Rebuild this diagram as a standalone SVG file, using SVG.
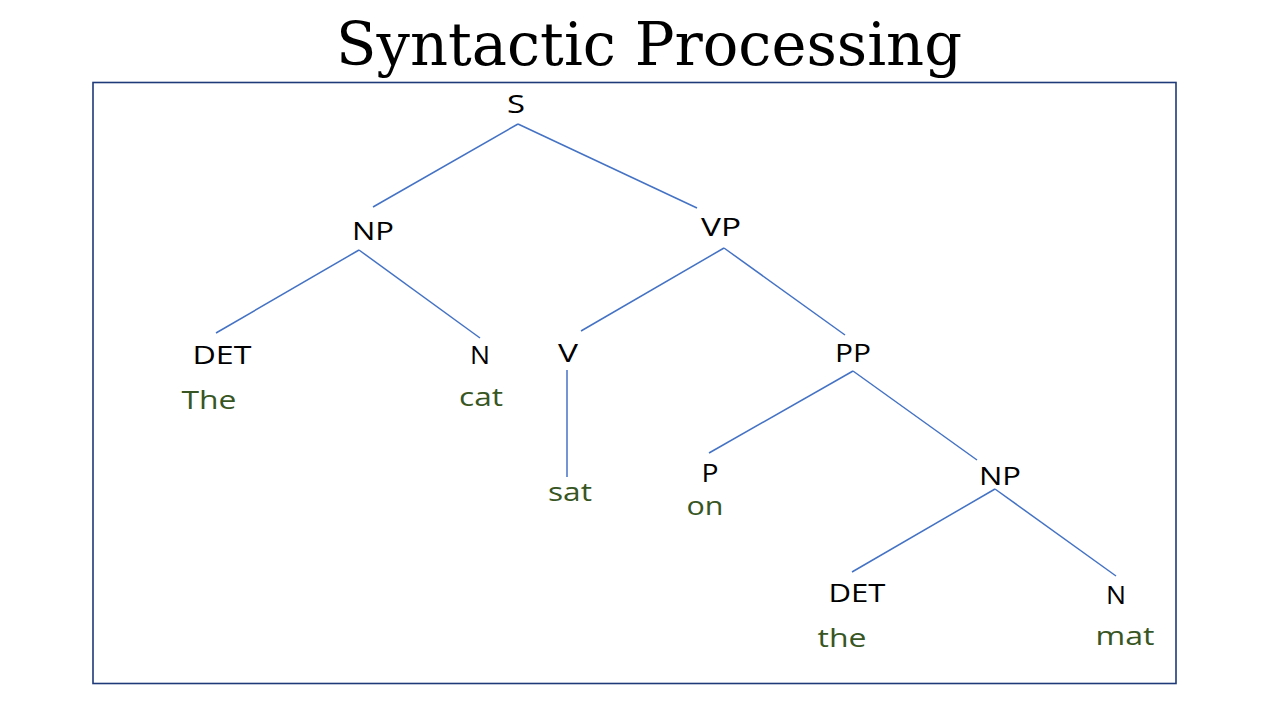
<svg xmlns="http://www.w3.org/2000/svg" width="1280" height="720" viewBox="0 0 1280 720">
<style>
.title{font-family:"DejaVu Serif","Liberation Serif",serif;font-size:60px;fill:#000}
.lbl{font-family:"Open Sans","Noto Sans",sans-serif;font-size:26px;fill:#000;text-anchor:middle}
.word{font-family:"Open Sans","Noto Sans",sans-serif;font-size:26px;fill:#375623;text-anchor:middle}
.edge{stroke:#4472C4;stroke-width:1.5;fill:none}
</style>
<rect x="0" y="0" width="1280" height="720" fill="#fff"/>
<text class="title" x="336" y="65" textLength="626" lengthAdjust="spacingAndGlyphs">Syntactic Processing</text>
<rect id="frame" x="93" y="82.5" width="1083" height="601" fill="none" stroke="#1F3A78" stroke-width="1.6"/>
<g id="connectors">
<line class="edge" x1="518" y1="124" x2="373" y2="207"/>
<line class="edge" x1="518" y1="124" x2="697" y2="208"/>
<line class="edge" x1="359" y1="250" x2="216" y2="333"/>
<line class="edge" x1="359" y1="250" x2="480" y2="338"/>
<line class="edge" x1="724" y1="248" x2="581" y2="331"/>
<line class="edge" x1="724" y1="248" x2="845" y2="335"/>
<line class="edge" x1="567" y1="370" x2="567" y2="477"/>
<line class="edge" x1="853" y1="371" x2="709" y2="453"/>
<line class="edge" x1="853" y1="371" x2="977" y2="460"/>
<line class="edge" x1="995" y1="489" x2="852" y2="572"/>
<line class="edge" x1="995" y1="489" x2="1116" y2="576"/>
</g>
<g id="S"><text class="lbl" x="516" y="113" textLength="18" lengthAdjust="spacingAndGlyphs">S</text></g>
<g id="NP1"><text class="lbl" x="373" y="240" textLength="42" lengthAdjust="spacingAndGlyphs">NP</text></g>
<g id="VP"><text class="lbl" x="721" y="236" textLength="40" lengthAdjust="spacingAndGlyphs">VP</text></g>
<g id="DET1"><text class="lbl" x="222" y="364" textLength="59" lengthAdjust="spacingAndGlyphs">DET</text><text class="word" x="209" y="409" textLength="55" lengthAdjust="spacingAndGlyphs">The</text></g>
<g id="N1"><text class="lbl" x="480" y="364" textLength="20" lengthAdjust="spacingAndGlyphs">N</text><text class="word" x="481" y="406" textLength="44" lengthAdjust="spacingAndGlyphs">cat</text></g>
<g id="V"><text class="lbl" x="568" y="362" textLength="20" lengthAdjust="spacingAndGlyphs">V</text><text class="word" x="570" y="501" textLength="44" lengthAdjust="spacingAndGlyphs">sat</text></g>
<g id="PP"><text class="lbl" x="853" y="362" textLength="36" lengthAdjust="spacingAndGlyphs">PP</text></g>
<g id="P"><text class="lbl" x="710" y="482" textLength="17" lengthAdjust="spacingAndGlyphs">P</text><text class="word" x="705" y="515" textLength="37" lengthAdjust="spacingAndGlyphs">on</text></g>
<g id="NP2"><text class="lbl" x="1000" y="485" textLength="42" lengthAdjust="spacingAndGlyphs">NP</text></g>
<g id="DET2"><text class="lbl" x="857" y="602" textLength="57" lengthAdjust="spacingAndGlyphs">DET</text><text class="word" x="842" y="647" textLength="49" lengthAdjust="spacingAndGlyphs">the</text></g>
<g id="N2"><text class="lbl" x="1116" y="604" textLength="20" lengthAdjust="spacingAndGlyphs">N</text><text class="word" x="1125" y="645" textLength="59" lengthAdjust="spacingAndGlyphs">mat</text></g>
</svg>
